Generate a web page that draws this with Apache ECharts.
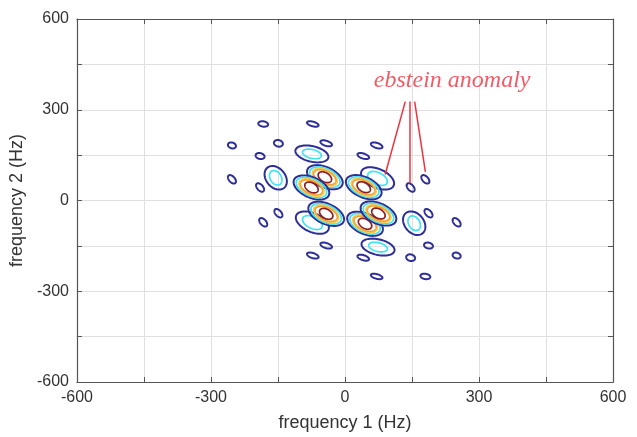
<!DOCTYPE html>
<html>
<head>
<meta charset="utf-8">
<script src="https://cdn.jsdelivr.net/npm/echarts@6/dist/echarts.min.js"></script>
<style>
    html, body { margin: 0; padding: 0; background: #fff; }
    #main { width: 637px; height: 437px; }
</style>
</head>
<body>
<div id="main"></div>
<script>
    // axis ticks (grid every 150 Hz, labels every 300 Hz)
    var tickLabels = [-600, -300, 0, 300, 600];

    // one contour = [level, centre f1, centre f2, half width f1, half height f2, tilt]
    // level 0 = lowest (navy) ... 4 = highest (dark red)
    var smallContours = [
        [0, -183, 253, 11, 9, -0.2],
        [0, -72, 253, 13, 9, -0.5],
        [0, -253, 182, 9, 10, -0.2],
        [0, -149, 189, 10, 11, -0.15],
        [0, -42, 189, 13, 10, -0.5],
        [0, -190, 147, 10, 10, -0.2],
        [0, 71, 182, 13, 10, -0.5],
        [0, 41, 147, 13, 10, -0.5],
        [0, -253, 70, 9, 14, -0.5],
        [0, -190, 43, 9, 14, -0.5],
        [0, 147, 43, 9, 14, -0.5],
        [0, 180, 70, 9, 14, -0.5],
        [0, -149, -42, 9, 14, -0.5],
        [0, -183, -72, 9, 14, -0.5],
        [0, 187, -42, 9, 14, -0.5],
        [0, 250, -72, 9, 14, -0.5],
        [0, -42, -149, 13, 10, -0.5],
        [0, -72, -182, 13, 10, -0.5],
        [0, 187, -149, 10, 10, -0.2],
        [0, 147, -189, 10, 11, -0.15],
        [0, 41, -189, 13, 10, -0.5],
        [0, 71, -251, 13, 9, -0.5],
        [0, 180, -251, 11, 9, -0.2],
        [0, 250, -182, 9, 10, -0.2]
    ];

    var midContours = [
        [0, -74, 154, 37, 28, -0.35],
        [1, -74, 154, 21, 16, -0.35],
        [0, 74, -154, 37, 28, -0.35],
        [1, 74, -154, 21, 16, -0.35],
        [0, -155, 75, 25, 39, -0.3],
        [1, -155, 75, 14, 24, -0.3],
        [0, 155, -75, 25, 39, -0.3],
        [1, 155, -75, 14, 24, -0.3],
        [0, 73, 73, 37, 37, -0.45],
        [1, 73, 73, 22, 23, -0.45],
        [0, -73, -73, 37, 37, -0.45],
        [1, -73, -73, 22, 23, -0.45]
    ];

    var peakContours = [
        [0, -45, 77, 40, 40, -0.45], [1, -45, 77, 34, 34, -0.45], [2, -45, 77, 28, 29, -0.45], [3, -45, 77, 25, 25, -0.45], [4, -45, 77, 15, 18, -0.4],
        [0, -75, 43, 40, 40, -0.45], [1, -75, 43, 34, 34, -0.45], [2, -75, 43, 28, 29, -0.45], [3, -75, 43, 25, 25, -0.45], [4, -75, 43, 15, 18, -0.4],
        [0, 42, 44, 40, 40, -0.45], [1, 42, 44, 34, 34, -0.45], [2, 42, 44, 28, 29, -0.45], [3, 42, 44, 25, 25, -0.45], [4, 42, 44, 15, 18, -0.4],
        [0, -42, -44, 40, 40, -0.45], [1, -42, -44, 34, 34, -0.45], [2, -42, -44, 28, 29, -0.45], [3, -42, -44, 25, 25, -0.45], [4, -42, -44, 15, 18, -0.4],
        [0, 45, -77, 40, 40, -0.45], [1, 45, -77, 34, 34, -0.45], [2, 45, -77, 28, 29, -0.45], [3, 45, -77, 25, 25, -0.45], [4, 45, -77, 15, 18, -0.4],
        [0, 75, -43, 40, 40, -0.45], [1, 75, -43, 34, 34, -0.45], [2, 75, -43, 28, 29, -0.45], [3, 75, -43, 25, 25, -0.45], [4, 75, -43, 15, 18, -0.4]
    ];

    // annotation
    var annotText = 'ebstein anomaly';
    var annotAt = [240, 395];
    var annotFrom = [[135, 327], [144, 327], [156, 327]];
    var annotTo = [[90, 86], [144, 58], [180, 95]];

    var levelColors = ['#2e2f96', '#3fe3f2', '#f6d04d', '#f2a33a', '#8e1f1f'];

    function renderContour(params, api) {
        var level = api.value(0);
        var cx = api.value(1), cy = api.value(2);
        var rx = api.value(3), ry = api.value(4), rho = api.value(5);
        var s = Math.sqrt(1 - rho * rho);
        var pts = [];
        for (var k = 0; k < 72; k++) {
            var t = k / 72 * Math.PI * 2;
            pts.push(api.coord([cx + rx * Math.cos(t), cy + ry * (rho * Math.cos(t) + s * Math.sin(t))]));
        }
        return {
            type: 'polygon',
            shape: {points: pts},
            style: {
                fill: 'none',
                stroke: levelColors[level],
                lineWidth: level === 0 ? 2 : 1.7
            }
        };
    }

    var leaderData = [];
    for (var i = 0; i < annotFrom.length; i++) {
        leaderData.push({coords: [annotFrom[i], annotTo[i]]});
    }

    var axisColor = '#555';
    function tickFormatter(v) {
        return tickLabels.indexOf(v) >= 0 ? String(v) : '';
    }

    var chart = echarts.init(document.getElementById('main'));
    var option = {
        backgroundColor: '#fff',
        animation: false,
        grid: {left: 76, right: 24, top: 19, bottom: 54},
        xAxis: [
            {
                type: 'value',
                min: -600,
                max: 600,
                interval: 150,
                name: 'frequency 1 (Hz)',
                nameLocation: 'middle',
                nameGap: 32,
                nameTextStyle: {fontFamily: 'Liberation Sans', fontSize: 18, color: '#333'},
                axisLine: {onZero: false, lineStyle: {color: axisColor, width: 1.2}},
                axisTick: {inside: true, length: 5, lineStyle: {color: axisColor}},
                axisLabel: {formatter: tickFormatter, fontFamily: 'Liberation Sans', fontSize: 16, color: '#333', margin: 8},
                splitLine: {lineStyle: {color: '#e0e0e0'}}
            },
            {
                type: 'value',
                position: 'top',
                min: -600,
                max: 600,
                interval: 150,
                axisLine: {onZero: false, lineStyle: {color: axisColor, width: 1.2}},
                axisTick: {inside: true, length: 5, lineStyle: {color: axisColor}},
                axisLabel: {show: false},
                splitLine: {show: false}
            }
        ],
        yAxis: [
            {
                type: 'value',
                min: -600,
                max: 600,
                interval: 150,
                name: 'frequency 2 (Hz)',
                nameLocation: 'middle',
                nameGap: 36,
                nameTextStyle: {fontFamily: 'Liberation Sans', fontSize: 18, color: '#333'},
                axisLine: {onZero: false, lineStyle: {color: axisColor, width: 1.2}},
                axisTick: {inside: true, length: 5, lineStyle: {color: axisColor}},
                axisLabel: {formatter: tickFormatter, fontFamily: 'Liberation Sans', fontSize: 16, color: '#333', margin: 8},
                splitLine: {lineStyle: {color: '#e0e0e0'}}
            },
            {
                type: 'value',
                position: 'right',
                min: -600,
                max: 600,
                interval: 150,
                axisLine: {onZero: false, lineStyle: {color: axisColor, width: 1.2}},
                axisTick: {inside: true, length: 5, lineStyle: {color: axisColor}},
                axisLabel: {show: false},
                splitLine: {show: false}
            }
        ],
        series: [
            {
                name: 'contours',
                type: 'custom',
                renderItem: renderContour,
                xAxisIndex: 0,
                yAxisIndex: 0,
                encode: {x: 1, y: 2},
                data: smallContours.concat(midContours, peakContours)
            },
            {
                name: 'leaders',
                type: 'lines',
                coordinateSystem: 'cartesian2d',
                xAxisIndex: 0,
                yAxisIndex: 0,
                symbol: 'none',
                lineStyle: {color: '#ec3340', width: 1.5, opacity: 1},
                data: leaderData
            },
            {
                name: 'annotation',
                type: 'scatter',
                xAxisIndex: 0,
                yAxisIndex: 0,
                symbolSize: 0,
                silent: true,
                label: {
                    show: true,
                    position: 'inside',
                    formatter: annotText,
                    fontFamily: 'Liberation Serif',
                    fontStyle: 'italic',
                    fontSize: 24,
                    color: '#ec3340'
                },
                data: [annotAt]
            }
        ]
    };
    chart.setOption(option);
</script>
</body>
</html>
